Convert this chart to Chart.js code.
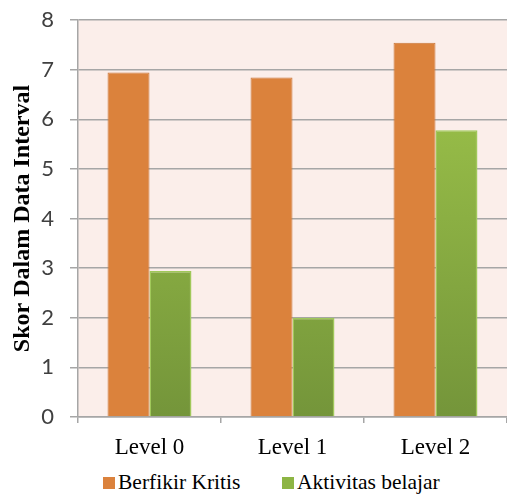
<!DOCTYPE html>
<html lang="en">
<head>
  <meta charset="UTF-8">
  <title>Skor Dalam Data Interval</title>
  <script src="https://cdn.jsdelivr.net/npm/chart.js"></script>
  <style>
    html, body { margin: 0; padding: 0; background: #ffffff; }
    .wrap { position: relative; width: 507px; height: 496px; }
    .chart-box { width: 507px; height: 466px; }
    .legend {
      position: absolute; left: 0; top: 469px; width: 507px; height: 27px;
      font-family: "Liberation Serif", "Times New Roman", serif; font-size: 21.5px; color: #000;
    }
    .legend .item { position: absolute; top: 0; display: flex; align-items: center; height: 27px; }
    .legend .swatch { width: 12px; height: 12px; margin-right: 3px; }
  </style>
</head>
<body>
  <div class="wrap">
    <div class="chart-box"><canvas id="skorChart"></canvas></div>
    <div class="legend" id="legend"></div>
  </div>
  <script>
    const levels = ["Level 0", "Level 1", "Level 2"];
    const berfikirKritis = [6.94, 6.84, 7.54];
    const aktivitasBelajar = [2.94, 2.0, 5.78];
    const yTicks = [0, 1, 2, 3, 4, 5, 6, 7, 8];
    const seriesNames = ["Berfikir Kritis", "Aktivitas belajar"];
    const seriesColors = ["#db823c", "#8db544"];

    // pink fill behind the plot area
    const plotBackground = {
      id: 'plotBackground',
      beforeDraw(chart) {
        const { ctx, chartArea } = chart;
        ctx.save();
        ctx.fillStyle = '#fbeeea';
        ctx.fillRect(chartArea.left, chartArea.top, chartArea.right - chartArea.left, chartArea.bottom - chartArea.top);
        ctx.restore();
      }
    };

    function greenFill(context) {
      const area = context.chart.chartArea;
      if (!area) return '#8db544';
      const g = context.chart.ctx.createLinearGradient(0, area.top, 0, area.bottom);
      g.addColorStop(0, '#a2c94c');
      g.addColorStop(1, '#74953a');
      return g;
    }

    const ctx = document.getElementById('skorChart').getContext('2d');
    new Chart(ctx, {
      type: 'bar',
      data: {
        labels: levels,
        datasets: [
          {
            label: seriesNames[0],
            data: berfikirKritis,
            backgroundColor: seriesColors[0],
            borderColor: '#c9763a',
            borderWidth: 1,
            categoryPercentage: 0.587,
            barPercentage: 1.0
          },
          {
            label: seriesNames[1],
            data: aktivitasBelajar,
            backgroundColor: greenFill,
            borderColor: '#a0c85a',
            borderWidth: 1.5,
            categoryPercentage: 0.587,
            barPercentage: 1.0
          }
        ]
      },
      options: {
        responsive: true,
        maintainAspectRatio: false,
        animation: false,
        layout: { padding: { top: 20, right: 0, left: 0, bottom: 0 } },
        plugins: {
          tooltip: { enabled: false },
          legend: { display: false }
        },
        scales: {
          x: {
            grid: {
              offset: true,
              drawOnChartArea: false,
              color: '#a6a6a6',
              lineWidth: 1.5,
              tickLength: 6
            },
            border: { display: true, color: '#a6a6a6', width: 1.5 },
            ticks: {
              color: '#000000',
              padding: 11,
              font: { family: '"Liberation Serif", "Times New Roman", serif', size: 23 }
            },
            afterFit(scale) { scale.height = 49; }
          },
          y: {
            min: 0,
            max: 8,
            afterBuildTicks(scale) { scale.ticks = yTicks.map(v => ({ value: v })); },
            grid: { color: '#a6a6a6', lineWidth: 1.5, tickLength: 8 },
            border: { display: true, color: '#a6a6a6', width: 1.5 },
            ticks: {
              color: '#404040',
              padding: 16,
              // small lineHeight keeps the top label from pushing the plot down
              font: { family: 'Lato, "Open Sans", sans-serif', size: 22, lineHeight: 0.3 }
            },
            title: {
              display: true,
              text: 'Skor Dalam Data Interval',
              color: '#000000',
              padding: { top: 8, bottom: 0 },
              font: { family: '"Liberation Serif", "Times New Roman", serif', size: 24, weight: 'bold' }
            },
            afterFit(scale) { scale.width = 78; }
          }
        }
      },
      plugins: [plotBackground]
    });

    // legend drawn as html so swatch and text sit where the reference has them
    const legendLeft = [103, 282];
    const legendEl = document.getElementById('legend');
    seriesNames.forEach((name, i) => {
      const item = document.createElement('div');
      item.className = 'item';
      item.style.left = legendLeft[i] + 'px';
      item.innerHTML = '<span class="swatch" style="background:' + seriesColors[i] + '"></span>' + name;
      legendEl.appendChild(item);
    });
  </script>
</body>
</html>
